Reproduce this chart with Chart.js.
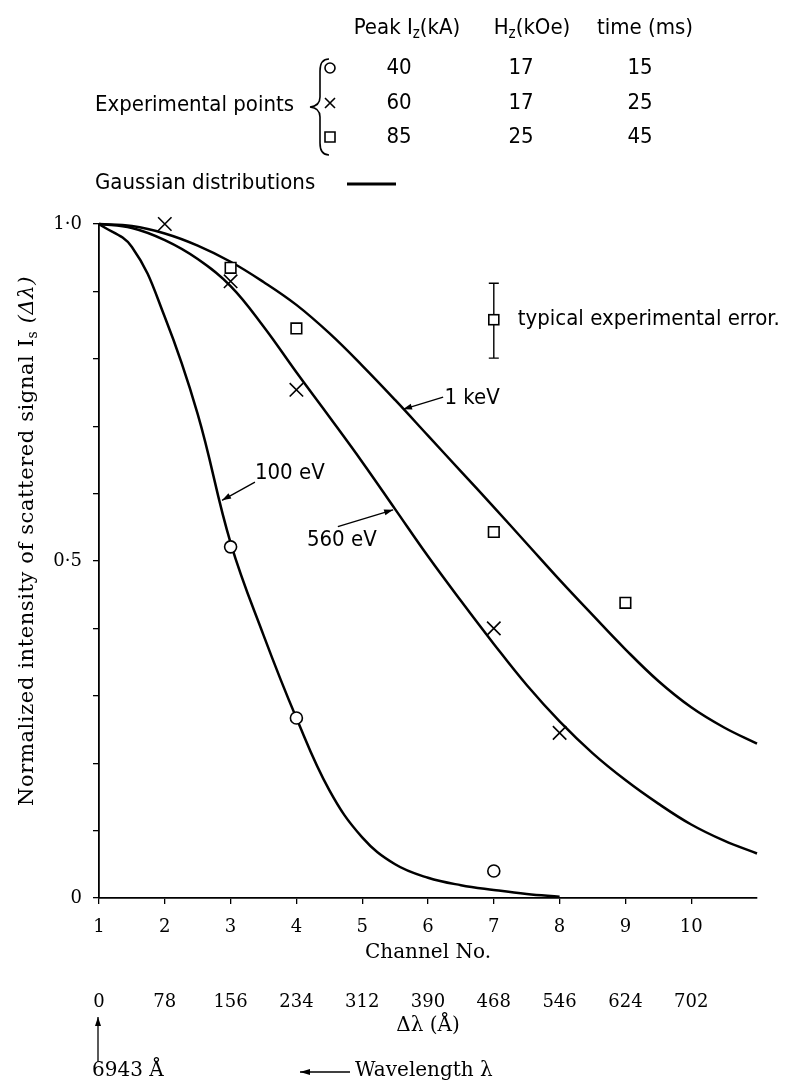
<!DOCTYPE html>
<html>
<head>
<meta charset="utf-8">
<script src="https://cdn.jsdelivr.net/npm/chart.js@4.4.1/dist/chart.umd.min.js"></script>
<style>
  html, body { margin: 0; padding: 0; background: #fff; }
  canvas { display: block; }
</style>
</head>
<body>
<canvas id="chart" width="803" height="1081"></canvas>
<script>
const curveChannels = [1, 1.5, 2, 2.5, 3, 3.5, 4, 4.5, 5, 5.5, 6, 6.5, 7, 7.5, 8, 8.5, 9, 9.5, 10, 10.5, 11];
const gauss1keV  = [1.0, 0.997, 0.986, 0.968, 0.944, 0.914, 0.880, 0.838, 0.790, 0.739, 0.686, 0.633, 0.580, 0.526, 0.472, 0.420, 0.369, 0.322, 0.283, 0.253, 0.229];
const gauss560eV = [1.0, 0.994, 0.976, 0.948, 0.908, 0.848, 0.780, 0.714, 0.647, 0.577, 0.507, 0.441, 0.377, 0.316, 0.262, 0.215, 0.175, 0.140, 0.109, 0.085, 0.066];
const gauss100eV = [1.0, 0.966, 0.862, 0.718, 0.527, 0.390, 0.267, 0.160, 0.090, 0.050, 0.030, 0.019, 0.012, 0.006, 0.002, null, null, null, null, null, null];

// experimental points
const circleChannels = [3, 4, 7];
const circleValues   = [0.521, 0.267, 0.040];
const crossChannels  = [2, 3, 4, 7, 8];
const crossValues    = [1.0, 0.915, 0.754, 0.400, 0.245];
const squareChannels = [3, 4, 7, 9];
const squareValues   = [0.935, 0.845, 0.543, 0.438];

// axes
const channelTicks = [1, 2, 3, 4, 5, 6, 7, 8, 9, 10];
const deltaLambdaLabels = ['0', '78', '156', '234', '312', '390', '468', '546', '624', '702'];
const yTickValues = [0, 0.1, 0.2, 0.3, 0.4, 0.5, 0.6, 0.7, 0.8, 0.9, 1.0];
const yTickLabels = ['0', '', '', '', '', '0·5', '', '', '', '', '1·0'];

// legend table
const legendSymbols = ['circle', 'cross', 'square'];
const legendPeakI = ['40', '60', '85'];
const legendHz = ['17', '17', '25'];
const legendTime = ['15', '25', '45'];

const toXY = (xs, ys) => xs.map((x, i) => ({ x: x, y: ys[i] }));

const SANS = '"DejaVu Sans Condensed", "Liberation Sans Narrow", "DejaVu Sans", sans-serif';
const SERIF = '"DejaVu Serif", "Liberation Serif", serif';

function arrow(ctx, x1, y1, x2, y2, head) {
  const a = Math.atan2(y2 - y1, x2 - x1);
  ctx.beginPath();
  ctx.moveTo(x1, y1);
  ctx.lineTo(x2, y2);
  ctx.stroke();
  ctx.beginPath();
  ctx.moveTo(x2, y2);
  ctx.lineTo(x2 - head * Math.cos(a) + 3 * Math.sin(a), y2 - head * Math.sin(a) - 3 * Math.cos(a));
  ctx.lineTo(x2 - head * Math.cos(a) - 3 * Math.sin(a), y2 - head * Math.sin(a) + 3 * Math.cos(a));
  ctx.closePath();
  ctx.fill();
}

// draws text pieces in a row, [text, font, dy]
function richText(ctx, parts, x, y, align) {
  let total = 0;
  parts.forEach(p => { ctx.font = p[1]; total += ctx.measureText(p[0]).width; });
  let cx = align === 'center' ? x - total / 2 : x;
  ctx.textAlign = 'left';
  parts.forEach(p => {
    ctx.font = p[1];
    ctx.fillText(p[0], cx, y + (p[2] || 0));
    cx += ctx.measureText(p[0]).width;
  });
}

function legendMark(ctx, kind, x, y) {
  ctx.lineWidth = 1.6;
  ctx.beginPath();
  if (kind === 'circle') {
    ctx.arc(x, y, 5, 0, Math.PI * 2);
  } else if (kind === 'cross') {
    ctx.moveTo(x - 5, y - 5); ctx.lineTo(x + 5, y + 5);
    ctx.moveTo(x + 5, y - 5); ctx.lineTo(x - 5, y + 5);
  } else {
    ctx.rect(x - 5, y - 5, 10, 10);
  }
  ctx.stroke();
}

const annotations = {
  id: 'annotations',
  afterDraw(chart) {
    const ctx = chart.ctx;
    const xs = chart.scales.x, ys = chart.scales.y;
    const px = v => xs.getPixelForValue(v);
    const py = v => ys.getPixelForValue(v);
    ctx.save();
    ctx.fillStyle = '#000';
    ctx.strokeStyle = '#000';
    ctx.textBaseline = 'middle';

    // y axis title
    ctx.save();
    ctx.translate(28, 541);
    ctx.rotate(-Math.PI / 2);
    ctx.letterSpacing = '0.6px';
    richText(ctx, [
      ['Normalized intensity of scattered signal I', '21px ' + SERIF],
      ['s', '14px ' + SERIF, 5],
      [' (\u0394\u03bb)', 'italic 21px ' + SERIF]
    ], 0, 0, 'center');
    ctx.restore();

    // legend table
    const hdr = '22px ' + SANS, sub = '15px ' + SANS;
    richText(ctx, [['Peak I', hdr], ['z', sub, 6], ['(kA)', hdr]], 407, 28, 'center');
    richText(ctx, [['H', hdr], ['z', sub, 6], ['(kOe)', hdr]], 532, 28, 'center');
    richText(ctx, [['time (ms)', hdr]], 645, 28, 'center');
    const rowY = [68, 103, 137];
    ctx.font = hdr;
    ctx.textAlign = 'center';
    legendSymbols.forEach((s, i) => {
      legendMark(ctx, s, 330, rowY[i]);
      ctx.fillText(legendPeakI[i], 399, rowY[i]);
      ctx.fillText(legendHz[i], 521, rowY[i]);
      ctx.fillText(legendTime[i], 640, rowY[i]);
    });
    ctx.textAlign = 'left';
    ctx.fillText('Experimental points', 95, 105);
    ctx.fillText('Gaussian distributions', 95, 183);
    ctx.lineWidth = 1.6;
    ctx.beginPath();
    ctx.moveTo(329, 59);
    ctx.quadraticCurveTo(320, 59, 320, 71);
    ctx.lineTo(320, 97);
    ctx.quadraticCurveTo(320, 106, 310, 107);
    ctx.quadraticCurveTo(320, 108, 320, 117);
    ctx.lineTo(320, 143);
    ctx.quadraticCurveTo(320, 155, 329, 155);
    ctx.stroke();
    ctx.lineWidth = 3;
    ctx.beginPath();
    ctx.moveTo(347, 184);
    ctx.lineTo(396, 184);
    ctx.stroke();

    // curve labels
    ctx.font = '22px ' + SANS;
    ctx.textAlign = 'center';
    ctx.lineWidth = 1.3;
    ctx.fillText('100 eV', px(3.90), py(0.630));
    arrow(ctx, px(3.37), py(0.617), px(2.87), py(0.590), 9);
    ctx.fillText('560 eV', px(4.69), py(0.530));
    arrow(ctx, px(4.63), py(0.551), px(5.47), py(0.576), 9);
    ctx.fillText('1 keV', px(6.67), py(0.742));
    arrow(ctx, px(6.23), py(0.743), px(5.62), py(0.725), 9);

    // typical experimental error
    const ex = px(7.0), eTop = py(0.912), eBot = py(0.801), eMid = py(0.858);
    ctx.lineWidth = 1.4;
    ctx.beginPath();
    ctx.moveTo(ex, eTop); ctx.lineTo(ex, eBot);
    ctx.moveTo(ex - 5, eTop); ctx.lineTo(ex + 5, eTop);
    ctx.moveTo(ex - 5, eBot); ctx.lineTo(ex + 5, eBot);
    ctx.stroke();
    ctx.fillStyle = '#fff';
    ctx.fillRect(ex - 5, eMid - 5, 10, 10);
    ctx.fillStyle = '#000';
    ctx.lineWidth = 1.6;
    ctx.strokeRect(ex - 5, eMid - 5, 10, 10);
    ctx.textAlign = 'left';
    ctx.fillText('typical experimental error.', ex + 24, eMid);

    // wavelength reference under the axes
    const x0 = px(1) - 1;
    ctx.lineWidth = 1.3;
    arrow(ctx, x0, 1062, x0, 1017, 9);
    ctx.font = '20px ' + SERIF;
    ctx.fillText('6943 \u00c5', 92, 1071);
    ctx.fillText('Wavelength \u03bb', 355, 1071);
    arrow(ctx, 350, 1072, 300, 1072, 10);
    ctx.restore();
  }
};

const curveStyle = {
  showLine: true, borderColor: '#000', borderWidth: 2.5, pointRadius: 0,
  tension: 0.4, spanGaps: false, clip: false, order: 1
};
const markStyle = {
  showLine: false, borderColor: '#000', backgroundColor: '#fff',
  pointBorderWidth: 1.6, clip: false, order: 0
};

new Chart(document.getElementById('chart').getContext('2d'), {
  type: 'line',
  data: {
    datasets: [
      Object.assign({ label: 'circles', data: toXY(circleChannels, circleValues), pointStyle: 'circle', pointRadius: 6 }, markStyle),
      Object.assign({ label: 'squares', data: toXY(squareChannels, squareValues), pointStyle: 'rect', pointRadius: 7.5 }, markStyle),
      Object.assign({ label: 'crosses', data: toXY(crossChannels, crossValues), pointStyle: 'crossRot', pointRadius: 9.5 }, markStyle),
      Object.assign({ label: '1 keV', data: toXY(curveChannels, gauss1keV) }, curveStyle),
      Object.assign({ label: '560 eV', data: toXY(curveChannels, gauss560eV) }, curveStyle),
      Object.assign({ label: '100 eV', data: toXY(curveChannels, gauss100eV) }, curveStyle)
    ]
  },
  options: {
    responsive: false,
    animation: false,
    layout: { padding: { left: 0, top: 224, right: 46, bottom: 39 } },
    plugins: { legend: { display: false }, tooltip: { enabled: false } },
    scales: {
      x: {
        type: 'linear', min: 1, max: 11, position: 'bottom', weight: 0,
        afterBuildTicks: s => { s.ticks = channelTicks.map(v => ({ value: v })); },
        ticks: { color: '#000', font: { family: SERIF, size: 18 }, padding: 13, maxRotation: 0, autoSkip: false,
                 callback: (v, i) => String(channelTicks[i]) },
        grid: { drawOnChartArea: false, tickLength: 6, color: '#000', lineWidth: 1.3 },
        border: { color: '#000', width: 1.8 },
        title: { display: true, text: 'Channel No.', color: '#000', font: { family: SERIF, size: 20 }, padding: 0 },
        afterFit: s => { s.height = 67; }
      },
      x2: {
        type: 'linear', min: 1, max: 11, position: 'bottom', weight: 1,
        afterBuildTicks: s => { s.ticks = channelTicks.map(v => ({ value: v })); },
        ticks: { color: '#000', font: { family: SERIF, size: 18 }, padding: 27, maxRotation: 0, autoSkip: false,
                 callback: (v, i) => deltaLambdaLabels[i] },
        grid: { display: false, drawTicks: false },
        border: { display: false },
        title: { display: true, text: '\u0394\u03bb (\u00c5)', color: '#000', font: { family: SERIF, size: 20 }, padding: { top: 0, bottom: 4 } },
        afterFit: s => { s.height = 77; }
      },
      y: {
        type: 'linear', min: 0, max: 1,
        afterBuildTicks: s => { s.ticks = yTickValues.map(v => ({ value: v })); },
        ticks: { color: '#000', font: { family: SERIF, size: 18 }, padding: 11, autoSkip: false,
                 callback: (v, i) => yTickLabels[i] },
        grid: { drawOnChartArea: false, tickLength: 6, color: '#000', lineWidth: 1.3 },
        border: { color: '#000', width: 1.8 },
        afterFit: s => { s.width = 99; }
      }
    }
  },
  plugins: [annotations]
});
</script>
</body>
</html>
